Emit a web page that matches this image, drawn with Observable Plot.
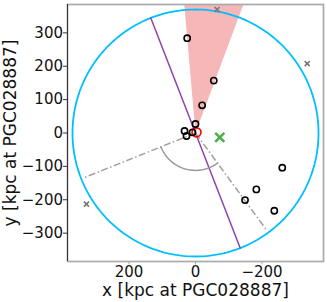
<!DOCTYPE html>
<html>
<head>
<meta charset="utf-8">
<script src="https://cdn.jsdelivr.net/npm/d3@7"></script>
<script src="https://cdn.jsdelivr.net/npm/@observablehq/plot@0.6"></script>
<style>
  html, body { margin: 0; padding: 0; background: white; }
</style>
</head>
<body>
<div id="chart"></div>
<script>
// ---- data ----
const satX = [25, -55, -20, 0, 33, 27, 9, -261, -183, -149, -237];
const satY = [284, 157, 83, 27, 6, -9, 2, -104, -169, -201, -233];
const farX = [-65, -336, 328];
const farY = [370, 208, -213];
const hostX = [-3];
const hostY = [2];
const centreX = [-73];
const centreY = [-13];
const virialRadius = 370;          // cyan circle
const wedgeAngles = [85, 110.5];   // degrees, pink cone
const wedgeRadius = 430;
const axisAngle = 68.7;            // purple line through origin
const dashEndX = [338, -213];      // grey dash-dot rays from origin
const dashEndY = [-135, -290];
const arcRadius = 112;
const arcAngles = [-21.8, -126.3];
const xTicks = [200, 0, -200];
const yTicks = [-300, -200, -100, 0, 100, 200, 300];
const xLabel = "x [kpc at PGC028887]";
const yLabel = "y [kpc at PGC028887]";

// ---- geometry helpers ----
const rad = d => d * Math.PI / 180;
const arcPts = (r, a0, a1, n = 120) =>
  d3.range(n + 1).map(i => {
    const a = rad(a0 + (a1 - a0) * i / n);
    return {x: r * Math.cos(a), y: r * Math.sin(a)};
  });

const circle = arcPts(virialRadius, 0, 360, 240);
const wedge = [{x: 0, y: 0}, ...arcPts(wedgeRadius, wedgeAngles[0], wedgeAngles[1], 40), {x: 0, y: 0}];
const purple = [
  {x: virialRadius * Math.cos(rad(axisAngle)), y: virialRadius * Math.sin(rad(axisAngle))},
  {x: -virialRadius * Math.cos(rad(axisAngle)), y: -virialRadius * Math.sin(rad(axisAngle))}
];
const dashRays = dashEndX.map((x, i) => ({x1: 0, y1: 0, x2: x, y2: dashEndY[i]}));
const arc = arcPts(arcRadius, arcAngles[0], arcAngles[1], 80);

const sats = satX.map((x, i) => ({x, y: satY[i]}));
const far = farX.map((x, i) => ({x, y: farY[i]}));
const host = hostX.map((x, i) => ({x, y: hostY[i]}));
const centre = centreX.map((x, i) => ({x, y: centreY[i]}));

const chart = Plot.plot({
  width: 327,
  height: 302,
  marginLeft: 67,
  marginRight: 4,
  marginTop: 4,
  marginBottom: 41,
  x: {domain: [385, -385]},
  y: {domain: [-385, 385]},
  style: {fontFamily: "DejaVu Sans", fontSize: "15px", background: "white", color: "#111"},
  marks: [
    Plot.line(wedge, {x: "x", y: "y", fill: "#f5b7b7", stroke: "none", clip: true}),
    Plot.line(circle, {x: "x", y: "y", stroke: "#00bfff", strokeWidth: 1.8, clip: true}),
    Plot.line(purple, {x: "x", y: "y", stroke: "#8e44ad", strokeWidth: 1.5}),
    Plot.link(dashRays, {x1: "x1", y1: "y1", x2: "x2", y2: "y2", stroke: "#a0a0a0", strokeWidth: 1.5, strokeDasharray: "7,2.5,1.5,2.5"}),
    Plot.line(arc, {x: "x", y: "y", stroke: "#999", strokeWidth: 1.5}),
    Plot.dot(far, {x: "x", y: "y", symbol: "times", r: 2.4, stroke: "#777", strokeWidth: 1.6}),
    Plot.dot(centre, {x: "x", y: "y", symbol: "times", r: 4.2, stroke: "#4daf4a", strokeWidth: 2.6}),
    Plot.dot(host, {x: "x", y: "y", r: 4.5, stroke: "red", strokeWidth: 1.7}),
    Plot.dot(sats, {x: "x", y: "y", r: 3.1, stroke: "black", strokeWidth: 1.6, fill: "none"}),
    Plot.frame({stroke: "#aaa", strokeWidth: 1.7}),
    Plot.ruleX([385], {stroke: "#333", strokeWidth: 1}),
    Plot.axisY({ticks: yTicks, tickSize: 4, tickPadding: 0.5, stroke: "#333", fill: "#111", label: null, fontSize: 15}),
    Plot.axisX({ticks: xTicks, tickSize: 3.5, tickPadding: 1.5, stroke: "#aaa", fill: "#111", label: null, fontSize: 15}),
    Plot.text([xLabel], {frameAnchor: "bottom", dy: 29, textAnchor: "middle", lineAnchor: "middle", fontSize: 17, fill: "#111"}),
    Plot.text([yLabel], {frameAnchor: "left", dx: -56.5, rotate: -90, textAnchor: "middle", lineAnchor: "middle", fontSize: 17, fill: "#111"})
  ]
});
document.getElementById("chart").appendChild(chart);
</script>
</body>
</html>
